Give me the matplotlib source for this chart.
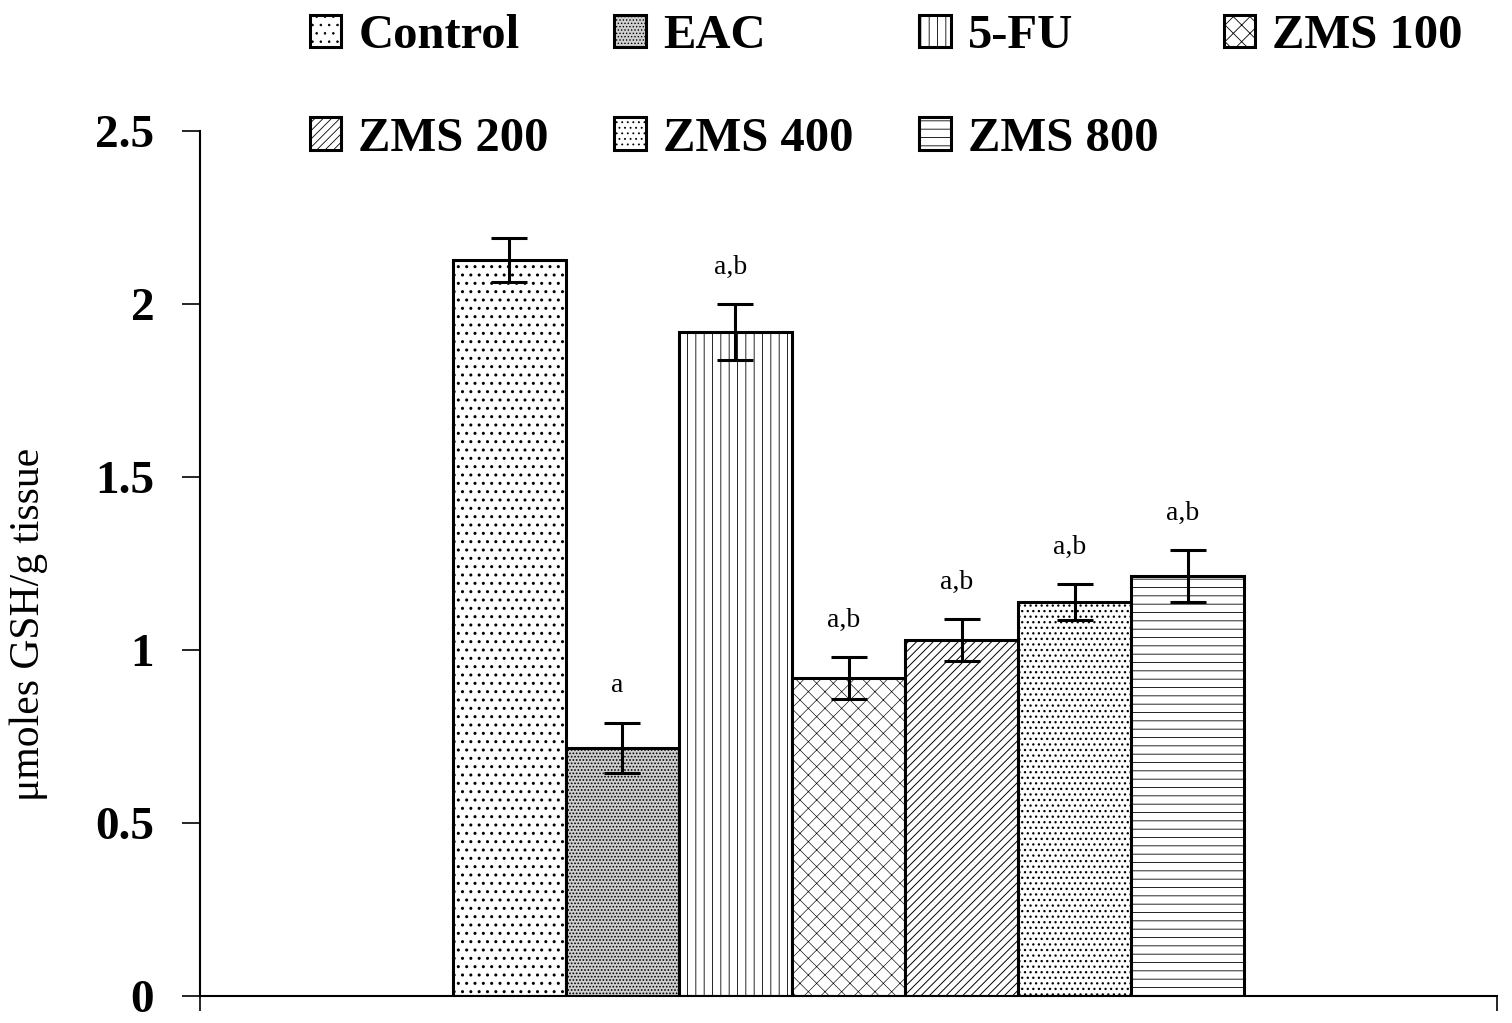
import matplotlib
matplotlib.use("Agg")
import matplotlib.pyplot as plt
import numpy as np

groups = ["Control", "EAC", "5-FU", "ZMS 100", "ZMS 200", "ZMS 400", "ZMS 800"]
means = [2.127, 0.717, 1.919, 0.919, 1.029, 1.139, 1.214]
errors = [0.063, 0.073, 0.080, 0.060, 0.060, 0.052, 0.075]
sig_labels = ["", "a", "a,b", "a,b", "a,b", "a,b", "a,b"]
yticks = [0, 0.5, 1, 1.5, 2, 2.5]
ytick_labels = ["0", "0.5", "1", "1.5", "2", "2.5"]
ylabel = "\u03bcmoles GSH/g tissue"

hatches = ["..", ".....", "||", "xx", "////", "...", "--"]
hatch_lws = [1.0, 0.8, 0.6, 0.45, 0.7, 0.9, 0.6]
faces = ["white", "#cfcfcf", "white", "white", "white", "white", "white"]

plt.rcParams['font.family'] = ['Liberation Serif', 'DejaVu Serif']

fig = plt.figure(figsize=(15.12, 10.23), dpi=100)
ax = fig.add_axes([200/1512, 1-996/1023, 1297/1512, (996-131)/1023])

n = len(groups)
w = 0.61 / n
xs = [(i - (n - 1) / 2) * w for i in range(n)]
bars = []
for i in range(n):
    plt.rcParams['hatch.linewidth'] = hatch_lws[i]
    b = ax.bar(xs[i], means[i], width=w, yerr=errors[i], color=faces[i],
               edgecolor="black", linewidth=2.2, hatch=hatches[i],
               error_kw=dict(ecolor="black", elinewidth=2.2, capsize=13, capthick=2.2),
               label=groups[i])
    bars.append(b)
    if sig_labels[i]:
        ax.text(xs[i] - 0.004, means[i] + errors[i] + 0.07, sig_labels[i], ha="center",
                va="bottom", fontsize=20)

ax.set_xlim(-0.5, 0.5)
ax.set_ylim(0, 2.5)
ax.set_yticks(yticks)
ax.set_yticklabels(ytick_labels, fontsize=34, fontweight="bold")
ax.set_xticks([-0.5, 0.5])
ax.set_xticklabels(["", ""])
ax.tick_params(axis="y", direction="out", length=13, width=1.2, pad=20)
ax.tick_params(axis="x", direction="out", length=11, width=1.2)
for s in ["top", "right"]:
    ax.spines[s].set_visible(False)
for s in ["left", "bottom"]:
    ax.spines[s].set_linewidth(1.5)
ax.set_ylabel(ylabel, fontsize=30)
ax.yaxis.set_label_coords(-0.117, 0.43)

order = [0, 4, 1, 5, 2, 6, 3]
handles = [bars[i] for i in order]
labels = [groups[i] for i in order]
fig.legend(handles, labels, ncol=4, loc="upper left", bbox_to_anchor=(0.179, 1.024),
           frameon=False, prop=dict(size=35, weight="bold"),
           handlelength=0.65, handleheight=0.65, handletextpad=0.35,
           columnspacing=1.35, labelspacing=1.2, borderpad=0.3)

fig.savefig("out.png", dpi=100)
